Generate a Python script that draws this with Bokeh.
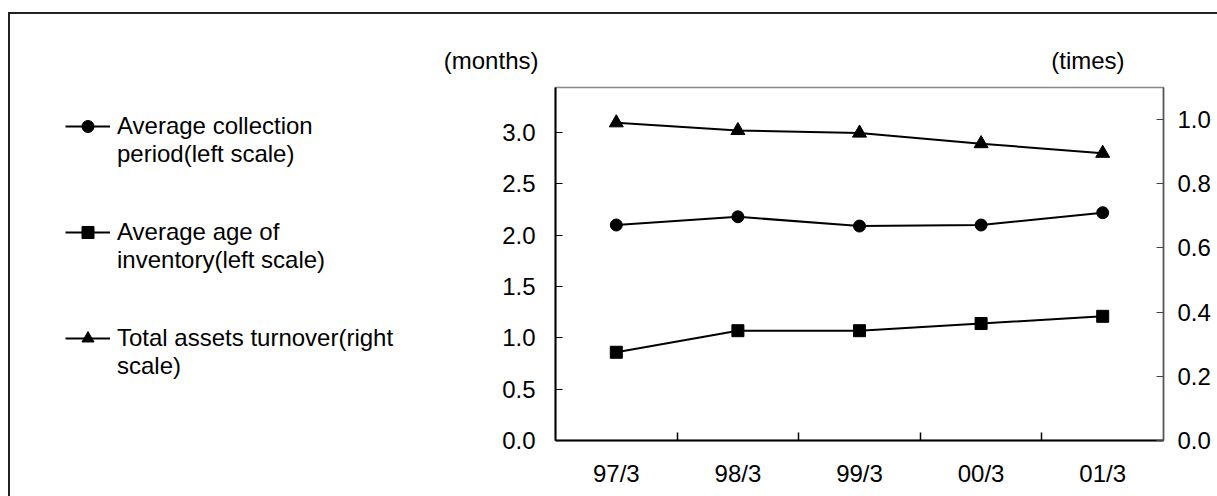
from bokeh.plotting import figure
from bokeh.layouts import row
from bokeh.models import (Range1d, LinearAxis, FixedTicker, Legend, LegendItem,
                          Label, NumeralTickFormatter)
from bokeh.embed import file_html
from bokeh.resources import INLINE

categories = ["97/3", "98/3", "99/3", "00/3", "01/3"]
collection_period = [2.10, 2.18, 2.09, 2.10, 2.22]
inventory_age = [0.86, 1.07, 1.07, 1.14, 1.21]
assets_turnover = [0.99, 0.966, 0.958, 0.925, 0.895]
left_ticks = [0.0, 0.5, 1.0, 1.5, 2.0, 2.5, 3.0]
right_ticks = [0.0, 0.2, 0.4, 0.6, 0.8, 1.0]
labels = ["Average collection\nperiod(left scale)",
          "Average age of\ninventory(left scale)",
          "Total assets turnover(right\nscale)"]
markers = ["circle", "square", "triangle"]

FONT = "Liberation Sans"
FS = "24px"
LINE = "linear-gradient(#222,#222)"
x = [i + 0.5 for i in range(len(categories))]
bounds = [float(i) for i in range(1, len(categories))]

# ---------------- main chart ----------------
p = figure(width=787, height=496, output_backend="svg", toolbar_location=None,
           x_range=Range1d(0, len(categories)), y_range=Range1d(0, 3.44),
           x_axis_location=None, y_axis_location=None,
           min_border_left=125, min_border_right=54, min_border_top=87,
           min_border_bottom=56)
p.extra_y_ranges = {"right": Range1d(0, 1.1)}
p.grid.visible = False
p.outline_line_color = "#888888"
p.outline_line_width = 1.5
p.background_fill_color = "white"
p.border_fill_color = None
p.styles = {"background": f"{LINE} 0px 12px / 100% 2px no-repeat, white"}

xa = LinearAxis(ticker=FixedTicker(ticks=x, minor_ticks=bounds),
                major_label_overrides={xi: c for xi, c in zip(x, categories)})
xa.major_tick_line_color = None
xa.minor_tick_in = 8
xa.minor_tick_out = 0
xa.minor_tick_line_color = "black"
xa.minor_tick_line_width = 1.5
xa.axis_line_color = "black"
xa.axis_line_width = 2
xa.major_label_standoff = 13
xa.major_label_text_font = FONT
xa.major_label_text_font_size = FS
xa.major_label_text_color = "black"
p.add_layout(xa, "below")

ya = LinearAxis(ticker=FixedTicker(ticks=left_ticks, minor_ticks=[]),
                formatter=NumeralTickFormatter(format="0.0"))
ya.major_tick_in = 7
ya.major_tick_out = 0
ya.major_tick_line_color = "black"
ya.major_tick_line_width = 1.2
ya.minor_tick_line_color = None
ya.axis_line_color = "black"
ya.axis_line_width = 2
ya.major_label_standoff = 20
ya.major_label_text_font = FONT
ya.major_label_text_font_size = FS
ya.major_label_text_color = "black"
p.add_layout(ya, "left")

ra = LinearAxis(y_range_name="right",
                ticker=FixedTicker(ticks=right_ticks, minor_ticks=[]),
                formatter=NumeralTickFormatter(format="0.0"))
ra.major_tick_in = 7
ra.major_tick_out = 0
ra.major_tick_line_color = "#444444"
ra.major_tick_line_width = 1.2
ra.minor_tick_line_color = None
ra.axis_line_color = "#555555"
ra.axis_line_width = 1.5
ra.major_label_standoff = 14
ra.major_label_text_font = FONT
ra.major_label_text_font_size = FS
ra.major_label_text_color = "black"
p.add_layout(ra, "right")

series = [collection_period, inventory_age, assets_turnover]
ranges = ["default", "default", "right"]
sizes = [12, 12, 14]
for ys, mk, rn, sz in zip(series, markers, ranges, sizes):
    p.line(x, ys, line_color="black", line_width=2, y_range_name=rn)
    p.scatter(x, ys, marker=mk, size=sz, color="black", y_range_name=rn)

p.add_layout(Label(x=-0.14, y=3.705, text="(months)", text_align="right",
                   text_baseline="middle", text_font=FONT, text_font_size=FS,
                   text_color="black"), "above")
p.add_layout(Label(x=4.68, y=1.185, text="(times)", y_range_name="right",
                   text_align="right", text_baseline="middle", text_font=FONT,
                   text_font_size=FS, text_color="black"), "above")

# ---------------- legend panel ----------------
lf = figure(width=430, height=496, output_backend="svg", toolbar_location=None,
            x_range=Range1d(0, 430), y_range=Range1d(0, 496),
            x_axis_location=None, y_axis_location=None, min_border=0)
lf.grid.visible = False
lf.outline_line_color = None
lf.background_fill_color = None
lf.border_fill_color = None
lf.styles = {"background": f"{LINE} 8px 12px / 2px 100% no-repeat, "
                           f"{LINE} 8px 12px / 100% 2px no-repeat, white"}

items = []
for lab, mk, ys in zip(labels, markers, series):
    r_line = lf.line(x, ys, line_color="black", line_width=2, visible=False)
    r_mark = lf.scatter(x, ys, marker=mk, color="black", visible=False)
    # leading blank line keeps the glyph level with the first text line
    items.append(LegendItem(label="\n" + lab, renderers=[r_line, r_mark]))

legend = Legend(items=items, location=(65, 60), glyph_width=45, glyph_height=30,
                label_standoff=7, spacing=22, padding=0, margin=0,
                border_line_color=None, background_fill_alpha=0,
                label_text_font=FONT, label_text_font_size=FS,
                label_text_line_height=0.94, label_text_color="black")
lf.add_layout(legend, "center")

layout = row(lf, p, spacing=0)
open("out.html", "w").write(file_html(layout, INLINE))
